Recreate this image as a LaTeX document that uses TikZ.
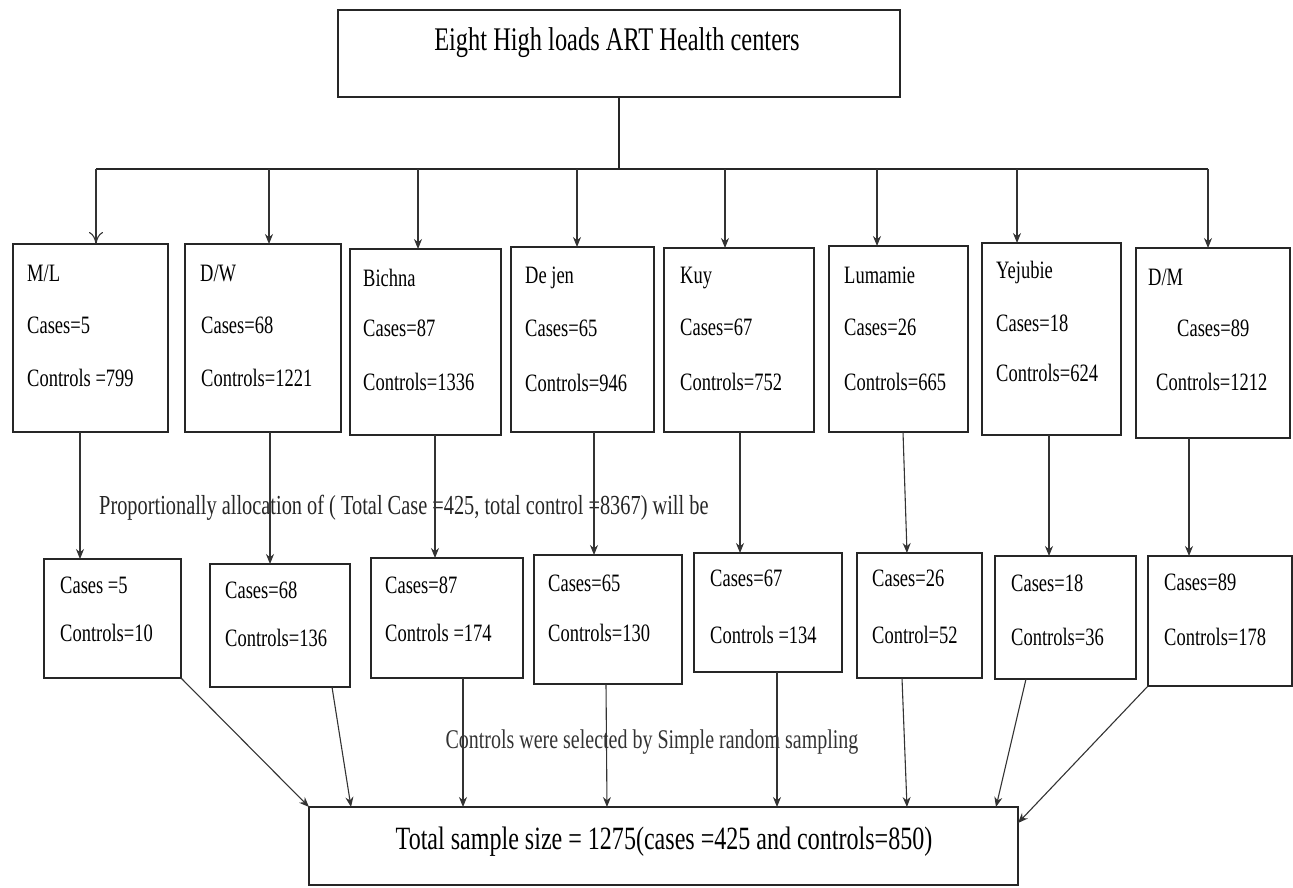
\documentclass[tikz,border=0pt]{standalone}
\usepackage{fontspec}
\setmainfont{Liberation Serif}[FakeStretch=0.74]
\usetikzlibrary{arrows.meta}
\begin{document}
\begin{tikzpicture}[x=1pt,y=-1pt,
  box/.style={draw=black!85,line width=1.6pt,inner sep=0pt,outer sep=0pt,anchor=north west},
  lbl/.style={anchor=west,inner sep=0pt,font=\fontsize{25}{27}\selectfont},
  arr/.style={draw=black!80,line width=1.1pt,-{Stealth[length=10pt,width=8pt]}},
  openarr/.style={draw=black!80,line width=1.1pt,-{To[length=12pt,width=14pt]}},
  ln/.style={draw=black!85,line width=1.3pt}]
\useasboundingbox (0,0) rectangle (1293,888);
\newcommand\mybox[5]{\node[box,minimum width={(#4-#2)*1pt},minimum height={(#5-#3)*1pt}] (#1) at (#2,#3) {};}
% top
\mybox{top}{338}{10}{900}{97}
\node[anchor=center,inner sep=0pt,font=\fontsize{33}{35}\selectfont] (toptxt) at (617,43) {Eight High loads ART Health centers};
% row 1
\mybox{a1}{13}{244}{168}{432}
\mybox{b1}{185}{244}{341}{432}
\mybox{c1}{350}{249}{501}{435}
\mybox{d1}{511}{247}{654}{432}
\mybox{e1}{664}{248}{814}{432}
\mybox{f1}{829}{246}{968}{432}
\mybox{g1}{982}{243}{1121}{435}
\mybox{h1}{1136}{248}{1290}{438}
% row 1 text
\node[lbl] (a1n) at (27,273) {M/L};
\node[lbl] (a1c) at (27,325) {Cases=5};
\node[lbl] (a1k) at (27,378) {Controls =799};
\node[lbl] (b1n) at (200,273) {D/W};
\node[lbl] (b1c) at (201,325) {Cases=68};
\node[lbl] (b1k) at (201,378) {Controls=1221};
\node[lbl] (c1n) at (363,278) {Bichna};
\node[lbl] (c1c) at (363,328) {Cases=87};
\node[lbl] (c1k) at (363,382) {Controls=1336};
\node[lbl] (d1n) at (525,278) {De jen};
\node[lbl] (d1c) at (525,328) {Cases=65};
\node[lbl] (d1k) at (525,383) {Controls=946};
\node[lbl] (e1n) at (680,278) {Kuy};
\node[lbl] (e1c) at (680,327) {Cases=67};
\node[lbl] (e1k) at (680,382) {Controls=752};
\node[lbl] (f1n) at (844,275) {Lumamie};
\node[lbl] (f1c) at (844,327) {Cases=26};
\node[lbl] (f1k) at (844,382) {Controls=665};
\node[lbl] (g1n) at (996,272) {Yejubie};
\node[lbl] (g1c) at (996,323) {Cases=18};
\node[lbl] (g1k) at (996,373) {Controls=624};
\node[lbl] (h1n) at (1148,277) {D/M};
\node[lbl] (h1c) at (1177,328) {Cases=89};
\node[lbl] (h1k) at (1156,382) {Controls=1212};
% row 2
\mybox{a2}{44}{559}{181}{678}
\mybox{b2}{210}{564}{350}{687}
\mybox{c2}{371}{558}{523}{678}
\mybox{d2}{534}{555}{682}{684}
\mybox{e2}{694}{553}{842}{672}
\mybox{f2}{857}{553}{982}{678}
\mybox{g2}{995}{556}{1136}{679}
\mybox{h2}{1148}{556}{1292}{686}
\node[lbl] (a2c) at (60,585) {Cases =5};
\node[lbl] (a2k) at (60,633) {Controls=10};
\node[lbl] (b2c) at (225,590) {Cases=68};
\node[lbl] (b2k) at (225,638) {Controls=136};
\node[lbl] (c2c) at (385,585) {Cases=87};
\node[lbl] (c2k) at (385,633) {Controls =174};
\node[lbl] (d2c) at (548,583) {Cases=65};
\node[lbl] (d2k) at (548,633) {Controls=130};
\node[lbl] (e2c) at (710,578) {Cases=67};
\node[lbl] (e2k) at (710,635) {Controls =134};
\node[lbl] (f2c) at (872,578) {Cases=26};
\node[lbl] (f2k) at (872,635) {Control=52};
\node[lbl] (g2c) at (1011,583) {Cases=18};
\node[lbl] (g2k) at (1011,637) {Controls=36};
\node[lbl] (h2c) at (1164,582) {Cases=89};
\node[lbl] (h2k) at (1164,637) {Controls=178};
% bottom
\mybox{bot}{309}{807}{1018}{885}
\node[anchor=center,inner sep=0pt,font=\fontsize{32.5}{34}\selectfont] (bottxt) at (664,842) {Total sample size = 1275(cases =425 and controls=850)};
% middle texts
\node[anchor=west,inner sep=0pt,font=\fontsize{27.5}{29}\selectfont,text=black!85] (prop) at (99,508) {Proportionally allocation of ( Total Case =425, total control =8367) will be};
\node[anchor=center,inner sep=0pt,font=\fontsize{27}{29}\selectfont,text=black!80] (srs) at (652,742) {Controls were selected by Simple random sampling};
% distribution
\coordinate (hl) at (96,169);
\coordinate (hr) at (1208,169);
\draw[ln] (top.south) -- (top.south |- hl);
\draw[ln] (hl) -- (hr);
\draw[openarr] (hl) -- (hl |- a1.north);
\draw[arr] (hl -| 269,0) -- (a1.north -| 269,0);
\draw[arr] (hl -| 418,0) -- (c1.north -| 418,0);
\draw[arr] (hl -| 577,0) -- (d1.north -| 577,0);
\draw[arr] (hl -| 725,0) -- (e1.north -| 725,0);
\draw[arr] (hl -| 877,0) -- (f1.north -| 877,0);
\draw[arr] (hl -| 1017,0) -- (g1.north -| 1017,0);
\draw[arr] (hr) -- (hr |- h1.north);
% row1 -> row2
\draw[arr] (a1.south -| 80,0) -- (a2.north -| 80,0);
\draw[arr] (b1.south -| 270,0) -- (b2.north -| 270,0);
\draw[arr] (c1.south -| 435,0) -- (c2.north -| 435,0);
\draw[arr] (d1.south -| 594,0) -- (d2.north -| 594,0);
\draw[arr] (e1.south -| 740,0) -- (e2.north -| 740,0);
\draw[arr] (f1.south -| 903,0) -- (f2.north -| 907,0);
\draw[arr] (g1.south -| 1049,0) -- (g2.north -| 1049,0);
\draw[arr] (h1.south -| 1189,0) -- (h2.north -| 1189,0);
% row2 -> bottom
\draw[arr] (a2.south east) -- (bot.north west);
\draw[arr] (b2.south -| 332,0) -- (bot.north -| 351,0);
\draw[arr] (c2.south -| 463,0) -- (bot.north -| 463,0);
\draw[arr] (d2.south -| 606,0) -- (bot.north -| 607,0);
\draw[arr] (e2.south -| 777,0) -- (bot.north -| 777,0);
\draw[arr] (f2.south -| 902,0) -- (bot.north -| 907,0);
\draw[arr] (g2.south -| 1026,0) -- (bot.north -| 996,0);
\draw[arr] (h2.south west) -- (bot.east |- 0,823);
\end{tikzpicture}
\end{document}
